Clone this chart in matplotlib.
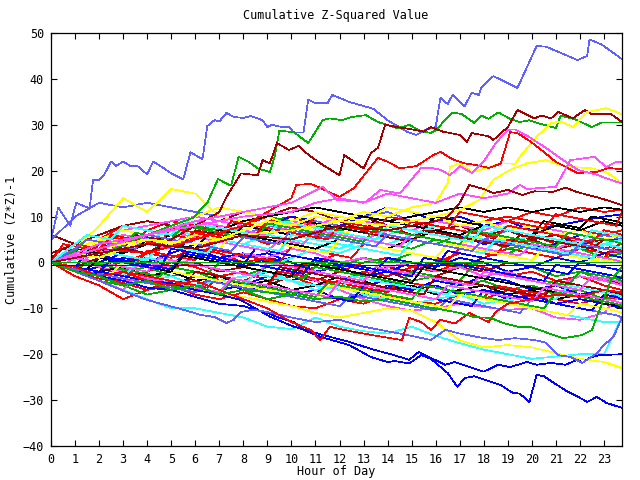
import matplotlib
matplotlib.use("Agg")
import matplotlib.pyplot as plt

# gnuplot-like colours
RED = '#ff0000'
GREEN = '#00b000'
BLUE = '#0000ff'
LAV = '#6060ff'
MAG = '#ff50ff'
CYAN = '#30ffff'
DRED = '#a00000'
YEL = '#ffff00'
BLK = '#000000'

hours = [0, 1, 2, 3, 4, 5, 6, 7, 8, 9, 10, 11, 12, 13, 14, 15, 16, 17, 18, 19, 20, 21, 22, 23, 23.75]
half_hours = [0, 0.5, 1, 1.5, 2, 2.5, 3, 3.5, 4, 4.5, 5, 5.5, 6, 6.5, 7, 7.5, 8, 8.5, 9, 9.5,
              10, 10.5, 11, 11.5, 12, 12.5, 13, 13.5, 14, 14.5, 15, 15.5, 16, 16.5, 17, 17.5, 18, 18.5,
              19, 19.5, 20, 20.5, 21, 21.5, 22, 22.5, 23, 23.5, 23.75]

# the tangle of walks in the middle, one value per hour
red_walks = [
    [0, -1.5, -3, -4.5, -6, -5, -7, -8, -6.5, -8, -9.5, -10, -8, -9, -7, -8.5, -9, -7, -8, -6, -7.5, -8, -9, -7.5, -8],
    [0, 2, 4, 3, 5, 7, 6, 8, 7, 9, 10, 8, 9, 11, 10, 9, 10, 8, 9, 10, 9, 8, 7, 6, 7],
    [0, -1, 1, 3, 2, 4, 3, 5, 6, 4, 5, 7, 6, 8, 6, 5, 4, 6, 5, 3, 4, 2, 3, 1, 2],
    [0, -2, -1, -3, -2, 0, -1, -3, -2, -4, -3, -5, -4, -2, -3, -1, -2, 0, -1, -3, -2, -4, -3, -5, -6],
    [0, 3, 5, 8, 7, 9, 8, 6, 8, 10, 9, 11, 9, 10, 8, 7, 9, 10, 8, 9, 11, 10, 12, 11, 11.5],
    [0, -3, -5, -8, -6, -4, -5, -3, -4, -2, -3, -1, -2, 0, 1, -1, 0, 2, 1, 3, 2, 1, 3, 2, 2.5],
    [0, 1, -1, 0, 2, 1, 3, 2, 0, 1, -1, 0, 2, 4, 3, 5, 4, 6, 5, 7, 6, 4, 5, 3, 4],
]
dred_walks = [
    [6, 4, 2, 0, 1, -1, 0, -2, -1, 1, 0, -2, -1, -3, -2, -4, -3, -1, -2, 0, -1, -3, -2, -4, -4.5],
    [0, 2, 1, 3, 5, 4, 6, 8, 7, 9, 8, 10, 9, 7, 8, 6, 7, 5, 6, 4, 5, 3, 4, 2, 3],
    [2, 4, 6, 8, 9, 8, 10, 9, 11, 10, 12, 11, 9, 10, 8, 9, 7, 8, 6, 7, 5, 6, 4, 5, 5],
    [0, -1, -3, -2, -4, -3, -5, -4, -6, -5, -3, -4, -2, -3, -1, -2, 0, -1, 1, 0, -1, 1, 0, 2, 1],
]
green_walks = [
    [0, 2, 4, 3, 5, 4, 6, 5, 7, 6, 5, 7, 6, 5, 4, 3, 5, 4, 3, 2, 4, 3, 2, 1, 2],
    [0, -2, -4, -5, -7, -6, -5, -7, -6, -8, -7, -6, -5, -7, -6, -4, -3, -5, -4, -6, -5, -7, -6, -8, -7],
    [0, 1, 3, 5, 4, 6, 8, 7, 9, 10, 9, 8, 7, 8, 6, 5, 4, 6, 5, 3, 4, 2, 3, 1, 2],
    [0, -1, 0, -2, -1, -3, -2, -4, -3, -1, -2, 0, -1, 1, 0, 2, 1, -1, 0, -2, -1, -3, -2, -4, -3],
]
blue_walks = [
    [0, -1, -3, -2, -4, -5, -3, -4, -6, -5, -7, -6, -8, -7, -5, -6, -4, -5, -3, -4, -6, -5, -7, -6, -7],
    [0, 2, 1, 3, 2, 4, 3, 1, 2, 0, 1, 3, 2, 4, 6, 5, 7, 6, 4, 5, 3, 4, 6, 5, 6],
    [0, -2, -1, 1, 0, 2, 4, 3, 1, 2, 0, -2, -1, -3, -2, 0, -1, 1, 0, -2, -1, 1, 0, 2, 1],
    [0, -1, -2, -4, -3, -5, -4, -6, -5, -3, -4, -2, -3, -5, -4, -6, -5, -7, -6, -8, -7, -9, -8, -9, -10],
    [0, 1, 0, 2, 4, 3, 5, 7, 6, 8, 10, 9, 8, 10, 12, 11, 9, 10, 8, 9, 7, 8, 9, 10, 10.5],
]
lav_walks = [
    [4.8, 10, 13, 12, 13, 12, 11, 10, 9, 10, 11, 12, 11, 10, 11, 9, 10, 8, 9, 7, 8, 6, 7, 5, 6],
    [0, 2, 3, 5, 4, 6, 5, 7, 6, 8, 7, 9, 8, 7, 6, 8, 7, 6, 5, 7, 6, 5, 4, 6, 5],
]
mag_walks = [
    [0, 2, 4, 6, 5, 7, 9, 8, 7, 6, 8, 7, 6, 5, 7, 6, 5, 4, 6, 5, 4, 3, 5, 4, 3],
    [0, -1, -2, -4, -3, -5, -4, -3, -5, -4, -2, -4, -6, -8, -9.5, -10.5, -10, -9, -9.7, -10.3, -10, -12, -12.5, -11, -6.5],
    [0, 3, 5, 7, 8, 9, 10, 9, 8, 7, 9, 8, 10, 9, 8, 7, 9, 8, 7, 9, 8, 7, 6, 5, 6],
    [0, 1, -1, -2, 0, -1, 1, 0, 2, 1, 3, 2, 0, 1, -1, 0, -2, -1, -3, -2, -4, -5, -3, -4, -5],
]
cyan_walks = [
    [0, -2, -4, -6, -8, -10, -10, -11, -12, -14, -14.5, -12, -14, -15, -15.5, -14, -16, -17.6, -19, -20, -21, -20.5, -20, -20, -12],
    [0, 2, 4, 3, 5, 7, 6, 5, 4, 6, 5, 4, 3, 5, 4, 6, 8, 7, 6, 8, 7, 6, 5, 4, 5],
    [0, 1, 0, -1, 1, 0, 2, 1, 0, -1, 1, 3, 2, 4, 6, 8, 7, 6, 5, 4, 6, 5, 3, 4, 3],
    [0, -1, -3, -2, -4, -3, -5, -4, -3, -2, -4, -6, -5, -7, -8, -9, -8, -7, -9, -8, -10, -11, -12, -13, -13],
]
yel_walks = [
    [0, 3, 5, 7, 6, 8, 10, 12, 11, 10, 8, 7, 6, 8, 7, 6, 5, 4, 6, 5, 3, 2, 1, 0, 0.5],
    [0, 3, 8, 14, 11, 16, 15, 10, 9, 8, 9, 11, 10, 9, 12, 11, 10, 8, 9, 7, 8, 6, 7, 5, 6],
    [0, -1, -2, -3, -4, -5, -5.5, -7, -7.5, -8.5, -9.5, -11, -12, -11, -10, -10.5, -13, -17, -18.5, -18, -18.5, -19.8, -21, -21.7, -23],
]
blk_walks = [
    [0, 1, 3, 2, 4, 6, 5, 7, 9, 10, 11, 12, 11, 10, 9, 10, 11, 12, 11, 12, 11, 12, 11, 12, 11.5],
    [0, -1, -2, -1, -3, -2, -4, -3, -5, -4, -6, -5, -3, -4, -6, -5, -7, -6, -5, -7, -6, -8, -7, -9, -9.5],
    [0, 2, 1, 3, 2, 4, 5, 7, 6, 5, 4, 3, 5, 4, 3, 5, 7, 6, 8, 7, 6, 8, 7, 9, 8],
]

# more walks, one value per half hour (slow slide, sudden jump)
half_walks = [
    (RED, [0, -0.5, -1, -1.5, 1, 0.5, 0, -0.5, 2.5, 2, 1.5, 1, 0.5, 3, 2.5, 2, 1.5, 1, 0.5, 0, 3.5,
           3, 2.5, 2, 1.5, 1, 4, 3.5, 3, 2.5, 2, 1.5, 1, 0.5, 3, 2.5, 2, 1.5, 5, 4.5, 4, 3.5, 3, 2.5, 2, 1.5, 1, 3.5, 3]),
    (RED, [0, -1, -2, -3, -3.5, -4, -2, -2.5, -3, -3.5, -4, -4.5, -5, -5.5, -3, -3.5, -4, -4.5, -5, -2, -2.5,
           -3, -3.5, -4, -4.5, -5, -5.5, -6, -6.5, -4, -4.5, -5, -5.5, -6, -6.5, -7, -7.5, -5, -5.5, -6, -6.5, -7,
           -4, -4.5, -5, -5.5, -6, -6.5, -7]),
    (DRED, [1, 3, 2.5, 2, 4, 3.5, 3, 6, 5.5, 5, 4.5, 4, 7, 6.5, 6, 5.5, 8, 7.5, 7, 6.5, 6, 5.5, 5, 8, 7.5, 7, 6.5, 6,
            5.5, 5, 4.5, 7, 6.5, 6, 5.5, 5, 4.5, 4, 3.5, 6, 5.5, 5, 4.5, 4, 3.5, 3, 5, 4.5, 4]),
    (GREEN, [0, -1, -2, 0, -0.5, -1, -1.5, -2, -2.5, -3, -1, -1.5, -2, -2.5, 0, -0.5, -1, -1.5, -2, -2.5, -3,
             -3.5, -1, -1.5, -2, -2.5, -3, -3.5, -4, -4.5, -2, -2.5, -3, -3.5, -4, -1, -1.5, -2, -2.5, -3, -3.5, -4,
             -4.5, -5, -2, -2.5, -3, -3.5, -4]),
    (BLUE, [0, -0.5, -1, 2, 1.5, 1, 0.5, 0, -0.5, -1, -1.5, 2, 1.5, 1, 0.5, 0, -0.5, 3, 2.5, 2, 1.5,
            1, 0.5, 0, -0.5, -1, -1.5, -2, 1, 0.5, 0, -0.5, -1, 2.5, 2, 1.5, 1, 0.5, 0, -0.5, -1, -1.5,
            -2, -2.5, 0, -0.5, -1, -1.5, -2]),
    (MAG, [0, 2, 1.5, 1, 3, 2.5, 5, 4.5, 4, 3.5, 3, 6, 5.5, 5, 4.5, 4, 3.5, 3, 2.5, 5, 4.5, 4, 7, 6.5, 6, 5.5, 5, 4.5,
           4, 3.5, 6, 5.5, 5, 4.5, 4, 3.5, 3, 2.5, 2, 1.5, 4, 3.5, 3, 2.5, 2, 1.5, 1, 0.5, 0]),
    (CYAN, [0, -0.5, -1, -1.5, -2, -2.5, -3, -0.5, -1, -1.5, -2, -2.5, -3, -3.5, -4, -4.5, -5, -2.5, -3, -3.5, -4,
            -4.5, -5, -5.5, -6, -3, -3.5, -4, -4.5, -5, -5.5, -6, -6.5, -7, -4, -4.5, -5, -5.5, -6, -6.5, -7, -7.5,
            -8, -5, -5.5, -6, -6.5, -7, -7.5]),
    (YEL, [0, 1.5, 3, 2.5, 5, 4.5, 4, 6.5, 6, 5.5, 5, 4.5, 4, 3.5, 3, 6, 5.5, 5, 4.5, 4, 3.5, 3, 2.5, 2, 5, 4.5, 4, 3.5,
           3, 2.5, 2, 1.5, 1, 4, 3.5, 3, 2.5, 2, 1.5, 1, 0.5, 3, 2.5, 2, 1.5, 1, 0.5, 0, -0.5]),
    (BLK, [0, 1, 3, 2.5, 2, 4, 3.5, 3, 5, 4.5, 4, 3.5, 3, 6, 5.5, 5, 8, 7.5, 7, 6.5, 6, 9, 8.5, 8, 7.5, 7, 6.5, 9.5,
           9, 8.5, 8, 7.5, 10, 9.5, 9, 8.5, 8, 7.5, 7, 6.5, 6, 9, 8.5, 8, 7.5, 10, 9.5, 9, 8.5]),
    (LAV, [0, -1, -1.5, -2, -2.5, -3, -3.5, -4, -4.5, -5, -5.5, -6, -6.5, -4, -4.5, -5, -5.5, -6, -6.5, -7, -7.5,
           -8, -8.5, -9, -9.5, -7, -7.5, -8, -8.5, -9, -9.5, -10, -10.5, -8, -8.5, -9, -9.5, -10, -10.5, -11, -8, -8.5,
           -9, -9.5, -10, -10.5, -11, -11.5, -12]),
    (RED, [0, 2, 4, 3.5, 3, 5.5, 5, 4.5, 7, 6.5, 6, 5.5, 5, 8, 7.5, 7, 6.5, 6, 9, 8.5, 8, 7.5, 10, 9.5, 9, 8.5, 8, 7.5,
           7, 6.5, 9, 8.5, 8, 7.5, 7, 6.5, 6, 5.5, 8, 7.5, 7, 6.5, 6, 5.5, 5, 4.5, 7, 6.5, 6]),
    (DRED, [0, -0.5, -1, -1.5, -2, -2.5, -3, -3.5, -4, -4.5, -5, -5.5, -2, -2.5, -3, -3.5, -4, -4.5, -5, -1, -1.5,
            -2, -2.5, -3, -3.5, -4, -4.5, -5, -5.5, -6, -6.5, -7, -3, -3.5, -4, -4.5, -5, -5.5, -6, -6.5, -7, -7.5,
            -4, -4.5, -5, -5.5, -6, -6.5, -7]),
    (GREEN, [0, 1, 2.5, 5, 4.5, 4, 3.5, 6.5, 6, 5.5, 5, 8, 7.5, 7, 6.5, 6, 5.5, 5, 8.5, 8, 7.5, 7, 6.5, 6, 5.5, 5, 4.5,
             7.5, 7, 6.5, 6, 5.5, 5, 4.5, 4, 7, 6.5, 6, 5.5, 5, 4.5, 4, 3.5, 6.5, 6, 5.5, 5, 4.5, 4]),
    (BLUE, [0, -1, -2, -3, -2, -2.5, -3, -3.5, -4, -4.5, -5, -5.5, -6, -6.5, -7, -3.5, -4, -4.5, -5, -5.5, -6,
            -6.5, -7, -7.5, -8, -8.5, -5, -5.5, -6, -6.5, -7, -7.5, -8, -8.5, -9, -9.5, -6, -6.5, -7, -7.5, -8, -8.5,
            -9, -9.5, -10, -10.5, -7, -7.5, -8]),
    (CYAN, [0, 1, 0.5, 3, 2.5, 2, 1.5, 1, 0.5, 4, 3.5, 3, 2.5, 2, 5, 4.5, 4, 3.5, 3, 2.5, 6, 5.5, 5, 4.5, 4, 3.5, 3, 2.5,
            2, 1.5, 5, 4.5, 4, 3.5, 3, 2.5, 2, 5, 4.5, 4, 3.5, 3, 2.5, 2, 1.5, 1, 4, 3.5, 3]),
    (MAG, [0, -0.5, 1, 0.5, 0, -0.5, -1, -1.5, -2, 1, 0.5, 0, -0.5, -1, -1.5, -2, -2.5, -3, 0, -0.5, -1,
           -1.5, -2, -2.5, -3, -3.5, -4, -1, -1.5, -2, -2.5, -3, -3.5, -4, -4.5, -5, -2, -2.5, -3, -3.5, -4, -4.5,
           -5, -5.5, -6, -3, -3.5, -4, -4.5]),
    (YEL, [0, -0.5, -1, -1.5, -2, -2.5, 0, -0.5, -1, -1.5, -2, -2.5, -3, -3.5, -4, -4.5, -5, -5.5, -6, -6.5, -7,
           -7.5, -8, -5, -5.5, -6, -6.5, -7, -7.5, -8, -8.5, -9, -9.5, -10, -7, -7.5, -8, -8.5, -9, -9.5, -10, -10.5,
           -11, -11.5, -9, -9.5, -10, -10.5, -11]),
    (BLK, [0, -0.5, -1, -1.5, 1, 0.5, 0, -0.5, -1, -1.5, -2, 1.5, 1, 0.5, 0, -0.5, -1, -1.5, -2, -2.5, -3,
           0, -0.5, -1, -1.5, -2, -2.5, -3, -3.5, -4, -4.5, -1, -1.5, -2, -2.5, -3, -3.5, -4, -4.5, -5, -5.5, -6,
           -6.5, -7, -7.5, -8, -8.5, -9, -9.5]),
    (RED, [0, 4, 3.5, 3, 2.5, 6, 5.5, 5, 4.5, 4, 7.5, 7, 6.5, 6, 5.5, 9, 8.5, 8, 7.5, 7, 6.5, 6, 5.5, 5, 8, 7.5, 7, 6.5,
           10, 9.5, 9, 8.5, 8, 7.5, 11, 10.5, 10, 9.5, 9, 8.5, 8, 7.5, 10.5, 10, 9.5, 9, 8.5, 8, 11]),
    (BLUE, [0, -0.5, -1, -1.5, -2, 0.5, 0, -0.5, -1, -1.5, 3, 2.5, 2, 1.5, 1, 0.5, 0, -0.5, -1, -1.5, -2,
            -2.5, 1, 0.5, 0, -0.5, -1, -1.5, -2, -2.5, -3, 1, 0.5, 0, -0.5, -1, -1.5, -2, -2.5, -3, -3.5, -4,
            -0.5, -1, -1.5, -2, -2.5, -3, -3.5]),
    (GREEN, [0, -0.5, -1, -1.5, -2, -2.5, -3, -3.5, -4, -4.5, -5, -5.5, -6, -6.5, -7, -4, -4.5, -5, -5.5, -6, -6.5,
             -7, -7.5, -4.5, -5, -5.5, -6, -6.5, -7, -7.5, -8, -5, -5.5, -6, -6.5, -7, -7.5, -8, -8.5, -9, -9.5, -10,
             -6.5, -7, -7.5, -8, -8.5, -9, -9.5]),
    (LAV, [0, 1.5, 3, 5, 4.5, 4, 3.5, 3, 6, 5.5, 5, 4.5, 4, 3.5, 3, 2.5, 5.5, 5, 4.5, 4, 7, 6.5, 6, 5.5, 5, 4.5, 4, 3.5,
           6, 5.5, 5, 4.5, 4, 3.5, 3, 2.5, 5, 4.5, 4, 3.5, 3, 2.5, 2, 1.5, 4, 3.5, 3, 2.5, 2]),
    (MAG, [0, -1, -2, -3, -4, -5, -6, -3, -3.5, -4, -4.5, -5, -5.5, -6, -6.5, -3.5, -4, -4.5, -5, -5.5, -6,
           -6.5, -7, -7.5, -4, -4.5, -5, -5.5, -6, -6.5, -7, -7.5, -8, -5, -5.5, -6, -6.5, -7, -7.5, -8, -8.5, -5.5,
           -6, -6.5, -7, -7.5, -8, -8.5, -9]),
    (CYAN, [0, 2, 4, 6, 5.5, 5, 8, 7.5, 7, 6.5, 6, 9, 8.5, 8, 7.5, 7, 6.5, 6, 5.5, 9, 8.5, 8, 7.5, 7, 6.5, 6, 5.5, 5,
            8, 7.5, 7, 6.5, 6, 5.5, 5, 4.5, 8, 7.5, 7, 6.5, 6, 5.5, 5, 4.5, 4, 7, 6.5, 6, 5.5]),
]

# the lines that break away from the tangle
top_lav_t = [0, 0.3, 0.8, 1.05, 1.5, 1.6, 1.75, 2.0, 2.2, 2.5, 2.7, 3.0, 3.3, 3.6, 4.0, 4.25, 4.7, 5.0, 5.5, 5.8,
             6.3, 6.5, 6.8, 7.0, 7.3, 7.6, 8.0, 8.3, 8.8, 9.0, 9.2, 9.6, 9.9, 10.1, 10.5, 10.7, 11.0, 11.5, 11.7, 12.4,
             13.4, 14.0, 14.8, 15.2, 15.6, 16.0, 16.2, 16.5, 16.7, 17.2, 17.5, 17.8, 17.9, 18.4, 19.0, 19.4, 20.2, 20.6,
             21.9, 22.3, 22.4, 22.9, 23.75]
top_lav_y = [4.8, 12, 8, 13, 12, 11.6, 18, 18, 19, 22, 21, 22, 21, 21, 19.2, 22, 20.5, 19.4, 18.1, 24,
             22.5, 29.7, 31, 30.7, 32.6, 31.7, 31.5, 31.9, 31, 29.5, 30, 29.5, 29.5, 28.3, 28.3, 35.5, 34.7, 34.7, 36.5, 35,
             33.5, 31, 28.5, 27.8, 29, 29.5, 35.9, 34.5, 36.5, 34, 37, 36.5, 38.1, 40.6, 39.1, 38, 47.2, 47,
             44.1, 45, 48.6, 47.5, 44.3]

top_green_t = [0, 1, 2, 3, 4, 5, 5.9, 6.5, 6.95, 7.4, 7.5, 7.8, 8.2, 8.6, 9.1, 9.3, 9.5, 10.1, 10.7, 11.3,
               11.6, 12.1, 12.5, 13.1, 13.6, 14.1, 14.4, 14.9, 15.3, 15.8, 16.0, 16.3, 16.7, 17.1, 17.6, 17.9, 18.2,
               18.6, 19.1, 19.5, 19.9, 20.3, 21.0, 21.2, 21.8, 22.5, 22.9, 23.4, 23.75]
top_green_y = [0, 2, 1, 4, 6, 8, 9.7, 13, 18.2, 16.9, 16.9, 23, 22, 20.5, 19.7, 23, 28.7, 28.4, 26, 31,
               31.4, 31, 31.7, 32.1, 30.6, 29.8, 29.2, 30, 28.8, 28.2, 28.8, 30.5, 32.7, 32.3, 30.4, 32, 31.3,
               32.7, 31.3, 30.6, 31, 30.3, 29.3, 32, 31.2, 29.5, 30.5, 30.5, 30.5]

top_dred_t = [0, 1, 2, 3, 4, 5, 6, 7, 7.3, 7.9, 8.6, 8.8, 9.1, 9.4, 9.9, 10.3, 10.7, 11.2, 12.0, 12.2,
              13.0, 13.3, 13.6, 13.9, 14.4, 15.0, 15.5, 15.8, 16.3, 17.0, 17.3, 17.5, 18.2, 18.4, 19.0, 19.4,
              20.1, 20.4, 20.8, 21.1, 21.7, 22.2, 22.5, 23.3, 23.75]
top_dred_y = [0, -1, 1, 3, 2, 5, 8, 11, 14.3, 19.4, 19, 22.3, 21.6, 26, 24.5, 25.4, 23.5, 21.6, 19, 23.4,
              20.5, 23.8, 25, 30, 29.5, 29, 28.5, 29.5, 28.5, 27.8, 26.3, 28.2, 27.5, 26.7, 29.5, 33.2,
              31.4, 32, 31.4, 32.8, 31.4, 33.2, 32.3, 32.3, 30.6]

top_yel_t = [0, 1, 2, 3, 4, 5, 6, 7, 8, 9, 10, 11, 12, 13, 14, 15, 16, 16.5, 16.6, 17, 17.5, 18.1, 18.7, 19.3,
             19.5, 20.2, 20.8, 21.2, 21.7, 22.3, 23.1, 23.75]
top_yel_y = [0, 2, 1, 3, 5, 4, 6, 5, 7, 9, 8, 10, 9, 11, 10, 12, 13, 17.3, 20.8, 21.6, 19.7, 20.5, 21.6, 21.5,
             23, 27.4, 30.4, 30.7, 29.5, 32.8, 33.6, 32.3]

yel2_t = [0, 2, 4, 6, 8, 10, 12, 14, 16, 17, 17.8, 18.4, 19.1, 19.8, 20.6, 21.2, 21.7, 22.5, 23.1, 23.75]
yel2_y = [0, 3, 5, 4, 6, 7, 9, 8, 10, 11.4, 13.6, 18, 20.2, 21.6, 22.3, 21.2, 20.8, 20.5, 19.7, 17.3]

red20_t = [0, 2, 4, 6, 8, 10, 10.2, 10.8, 11.1, 11.5, 12.0, 12.6, 13.6, 14.1, 14.5, 15.2, 15.9, 16.2, 16.7, 17.2,
           17.7, 18.2, 18.7, 19.1, 19.4, 19.9, 20.4, 21.0, 21.9, 22.7, 23.2, 23.75]
red20_y = [0, 3, 2, 5, 8, 14, 16.9, 17.1, 16.5, 15.5, 14.3, 16.2, 22.8, 21.7, 20.5, 21, 23.4, 24.1, 22.5, 21.6,
           21.2, 20.6, 21.5, 28.4, 28.2, 26.5, 24.5, 21.9, 19.5, 19.7, 20.6, 20.3]

mag_a_t = [0, 2, 4, 6, 8, 10, 11.3, 11.9, 13.1, 13.7, 14.5, 15.4, 15.8, 16.2, 16.6, 17.0, 17.5, 18.0, 18.5, 19.0,
           19.3, 19.9, 20.6, 21.3, 21.9, 22.7, 23.5, 23.75]
mag_a_y = [0, 4, 6, 9, 11, 13, 16.5, 13.6, 13.2, 15.8, 15, 20.6, 20.6, 20.2, 19, 21, 19.5, 22, 26, 28.9,
           29, 27.3, 24.9, 22.3, 20.2, 19.1, 17.6, 17.2]

mag_b_t = [0, 2, 4, 6, 8, 10, 11, 12, 13, 14, 15, 16, 17, 18, 19, 19.5, 19.8, 21.0, 21.6, 22.6, 23.1, 23.5, 23.75]
mag_b_y = [0, 3, 6, 8, 10, 11, 13, 14, 13, 15, 14, 13, 15, 14, 15, 16.9, 16, 16.5, 22.3, 23, 20.8, 21.9, 21.9]

dred12_t = [0, 2, 4, 6, 8, 10, 12, 14, 16, 16.5, 17.0, 17.4, 18.0, 18.4, 19.0, 19.6, 20.1, 20.9, 21.4, 21.9, 22.5,
            23.1, 23.75]
dred12_y = [0, 2, 4, 3, 6, 5, 8, 7, 9, 10, 13, 16.9, 16, 15.1, 15.8, 14.7, 15.5, 15.4, 16.3, 15.3, 14.5,
            13.6, 12.5]

low_blue_t = [0, 1, 2, 3, 4, 5, 6, 7, 8, 9, 9.4, 10.1, 10.5, 11.2, 12.4, 13.3, 14.0, 14.3, 14.9, 15.4,
              15.8, 16.5, 16.9, 17.2, 17.6, 17.9, 18.7, 19.2, 19.5, 19.9, 20.2, 20.5, 20.9, 21.5, 21.9, 22.3,
              22.7, 23.1, 23.75]
low_blue_y = [0, -2, -3, -4, -5.5, -6, -7.5, -9, -9.5, -11, -11.9, -13, -14.7, -16.2, -18, -20.6, -21.7, -21.5, -22, -20.2,
              -21, -24.1, -27.1, -25.2, -24.8, -25.3, -26.7, -28.4, -28.6, -30.4, -24.5, -24.8, -26.2, -28.2, -29.2, -30.4,
              -29.3, -30.6, -31.7]

blue2_t = [0, 1, 2, 3, 4, 5, 6, 7, 7.9, 9.1, 10.1, 11.3, 12.4, 13.4, 14.0, 14.9, 15.3, 15.8, 16.4, 16.8,
           18.0, 18.6, 19.1, 19.8, 20.2, 20.8, 21.4, 21.9, 22.1, 22.4, 22.8, 23.75]
blue2_y = [0, -1, -2, -3, -4, -4.5, -6, -7, -8.2, -11.8, -14, -15.8, -17.3, -19, -19.8, -21.2, -19.5, -20.8, -22.3, -21.7,
           -23.8, -22.3, -22.8, -21.7, -22.3, -21.9, -22.3, -21.2, -21.9, -20.8, -20.2, -20]

low_lav_t = [0, 1, 2, 3.2, 4, 4.8, 5.5, 6.2, 6.8, 7.3, 7.6, 7.9, 8.4, 9.0, 9.5, 10, 11, 12, 13, 14,
             15, 15.8, 16.4, 17.0, 17.9, 18.6, 19.3, 20.1, 20.6, 21.1, 21.6, 22.1, 22.7, 23.0, 23.4, 23.75]
low_lav_y = [0, -2, -4, -6.6, -8.2, -9.3, -10.3, -11.4, -11.9, -13.2, -12.5, -10.8, -10.3, -10.8, -11.4, -12, -13, -12.5, -14, -15,
             -16, -16.9, -14.7, -15.5, -16.4, -16.9, -16.5, -16.9, -17.5, -20.2, -20.6, -21.9, -19.8, -18, -16.2, -12]

low_red_t = [0, 1, 2, 3, 4, 5, 6, 7, 8, 9, 10, 10.8, 11.2, 11.6, 12.0, 13.0, 14.0, 14.6, 14.9, 15.4,
             15.8, 16.2, 16.8, 17.4, 18.2, 18.5, 19, 20, 21, 22, 23, 23.75]
low_red_y = [0, -1, -3, -2, -4, -5, -4, -6, -8, -10, -13, -14.7, -16.9, -14, -14.5, -15.5, -16.4, -16.9, -12.1, -13,
             -14.7, -12.5, -13.3, -11, -13, -10.8, -9, -8, -7, -7.5, -6, -6.5]

low_green_t = [0, 1, 2, 3, 4, 5, 6, 7, 8, 9, 10, 11, 12, 13, 14, 15, 15.8, 16.2, 17.0, 17.6, 18.3, 18.8,
               19.4, 19.9, 20.3, 20.9, 21.3, 21.7, 22.1, 22.5, 22.7, 23.3, 23.75]
low_green_y = [0, -2, -3, -5, -4, -6, -5, -7, -6, -6.5, -7, -8, -7.5, -8.5, -8, -9, -9.9, -10.2, -11, -11.9, -12.1, -13.2,
               -14, -14, -14.7, -15.8, -16.5, -16.2, -15.8, -14.7, -11.9, -3.8, -1]

flat_green = 0.0
flat_blue = -0.5

fig = plt.figure(figsize=(6.4, 4.8), dpi=100)
ax = fig.add_axes([51 / 640, 34 / 480, 571 / 640, 413 / 480])

kw = dict(lw=0.5, antialiased=False)
for ys, c in [(red_walks, RED), (dred_walks, DRED), (green_walks, GREEN), (blue_walks, BLUE),
              (lav_walks, LAV), (mag_walks, MAG), (cyan_walks, CYAN), (yel_walks, YEL), (blk_walks, BLK)]:
    for y in ys:
        ax.plot(hours, y, color=c, **kw)
for c, y in half_walks:
    ax.plot(half_hours, y, color=c, **kw)

ax.plot(top_lav_t, top_lav_y, color=LAV, **kw)
ax.plot(top_green_t, top_green_y, color=GREEN, **kw)
ax.plot(top_dred_t, top_dred_y, color=DRED, **kw)
ax.plot(top_yel_t, top_yel_y, color=YEL, **kw)
ax.plot(yel2_t, yel2_y, color=YEL, **kw)
ax.plot(red20_t, red20_y, color=RED, **kw)
ax.plot(mag_a_t, mag_a_y, color=MAG, **kw)
ax.plot(mag_b_t, mag_b_y, color=MAG, **kw)
ax.plot(dred12_t, dred12_y, color=DRED, **kw)
ax.plot(low_blue_t, low_blue_y, color=BLUE, **kw)
ax.plot(blue2_t, blue2_y, color=BLUE, **kw)
ax.plot(low_lav_t, low_lav_y, color=LAV, **kw)
ax.plot(low_red_t, low_red_y, color=RED, **kw)
ax.plot(low_green_t, low_green_y, color=GREEN, **kw)
ax.axhline(flat_green, color=GREEN, lw=0.7, antialiased=False)
ax.axhline(flat_blue, color=BLUE, lw=0.7, antialiased=False)

ax.set_xlim(0, 23.75)
ax.set_ylim(-40, 50)
ax.set_xticks(range(0, 24))
ax.set_yticks(range(-40, 51, 10))
ax.tick_params(direction='in', length=4, width=0.8, top=True, right=True,
               labelsize=8.5, pad=5, colors='black')
for lab in ax.get_xticklabels() + ax.get_yticklabels():
    lab.set_family('DejaVu Sans Mono')
for s in ax.spines.values():
    s.set_linewidth(0.9)

fnt = dict(family='DejaVu Sans Mono', fontsize=8.5)
fig.text(336 / 640, 1 - 15 / 480, 'Cumulative Z-Squared Value', ha='center', va='center', **fnt)
fig.text(336 / 640, 1 - 472 / 480, 'Hour of Day', ha='center', va='center', **fnt)
fig.text(12 / 640, 0.5, 'Cumulative (Z*Z)-1', ha='center', va='center', rotation=90, **fnt)

fig.savefig('out.png', dpi=100)
